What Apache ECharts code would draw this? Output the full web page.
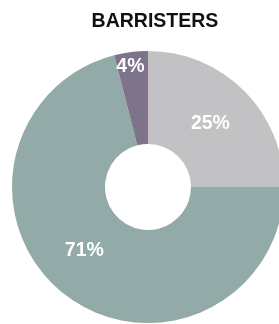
<!DOCTYPE html>
<html>
<head>
<meta charset="utf-8">
<script src="https://cdn.jsdelivr.net/npm/echarts@6/dist/echarts.min.js"></script>
<style>
  html, body { margin: 0; padding: 0; background: #ffffff; }
  #chart { width: 279px; height: 324px; }
</style>
</head>
<body>
<div id="chart"></div>
<script>
const categories = ["Cat A", "Cat B", "Cat C"];
const values = [25, 71, 4];
const colors = ["#c2c1c3", "#92aaa8", "#7f728b"];
// small nudges so the labels sit where the original has them
const labelShift = [[-3, 2], [-7, -9], [-6, -29]];

const chart = echarts.init(document.getElementById("chart"), null, { renderer: "canvas" });

chart.setOption({
    backgroundColor: "#ffffff",
    animation: false,
    title: {
        text: "BARRISTERS",
        left: 150,
        top: 7,
        textAlign: "center",
        textStyle: {
            fontFamily: "Liberation Sans",
            fontWeight: "bold",
            fontSize: 19.5,
            color: "#111111"
        }
    },
    series: [{
        type: "pie",
        center: [148, 187],
        radius: [43, 136],
        startAngle: 90,
        clockwise: true,
        silent: true,
        itemStyle: { borderWidth: 0 },
        label: {
            show: true,
            position: "inside",
            formatter: "{c}%",
            color: "#ffffff",
            fontFamily: "Liberation Sans",
            fontWeight: "bold",
            fontSize: 19.5
        },
        labelLine: { show: false },
        labelLayout: function (params) {
            const s = labelShift[params.dataIndex];
            return { dx: s[0], dy: s[1] };
        },
        data: categories.map((name, i) => ({
            name: name,
            value: values[i],
            itemStyle: { color: colors[i] }
        }))
    }]
});
</script>
</body>
</html>
